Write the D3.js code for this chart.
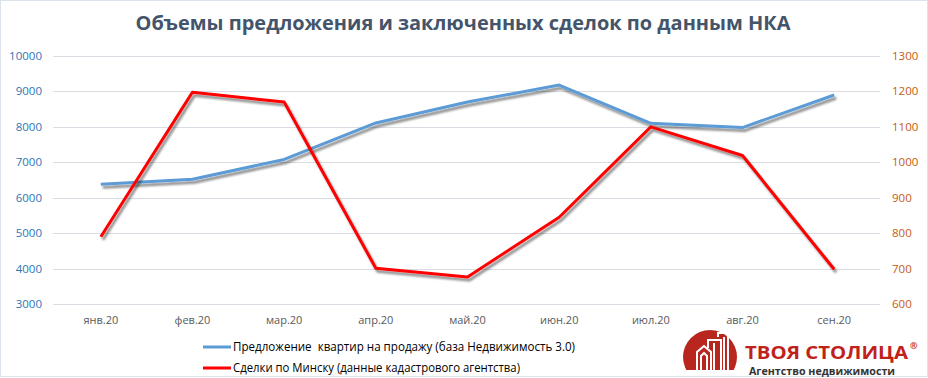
<!DOCTYPE html>
<html>
<head>
<meta charset="utf-8">
<script src="https://cdn.jsdelivr.net/npm/d3@7"></script>
<style>
  body { margin: 0; background: #fff; }
  svg { display: block; font-family: 'Open Sans', sans-serif; }
</style>
</head>
<body>
<div id="chart"></div>
<script>
const months = ['янв.20', 'фев.20', 'мар.20', 'апр.20', 'май.20', 'июн.20', 'июл.20', 'авг.20', 'сен.20'];
const offers = [6380, 6520, 7080, 8110, 8700, 9180, 8100, 7980, 8900];
const deals = [790, 1198, 1170, 701, 676, 845, 1100, 1019, 698];
const leftTicks = [3000, 4000, 5000, 6000, 7000, 8000, 9000, 10000];
const rightTicks = [600, 700, 800, 900, 1000, 1100, 1200, 1300];
const title = 'Объемы предложения и заключенных сделок по данным НКА';
const legendNames = ['Предложение  квартир на продажу (база Недвижимость 3.0)', 'Сделки по Минску (данные кадастрового агентства)'];

const BLUE = '#5b9bd5';
const RED = '#ff0000';
const width = 928, height = 378;
const margin = { top: 56, right: 48, bottom: 74, left: 55 };

const svg = d3.select('#chart').append('svg')
  .attr('width', width)
  .attr('height', height);

const defs = svg.append('defs');
const shadow = defs.append('filter').attr('id', 'shadow')
  .attr('x', '-5%').attr('y', '-5%').attr('width', '110%').attr('height', '120%');
shadow.append('feGaussianBlur').attr('in', 'SourceAlpha').attr('stdDeviation', 1.2).attr('result', 'b');
shadow.append('feOffset').attr('dx', 2).attr('dy', 3).attr('result', 'o');
shadow.append('feComponentTransfer').append('feFuncA').attr('type', 'linear').attr('slope', 0.45);
const merge = shadow.append('feMerge');
merge.append('feMergeNode');
merge.append('feMergeNode').attr('in', 'SourceGraphic');

// frame
svg.append('rect')
  .attr('x', 0.5).attr('y', 0.5)
  .attr('width', width - 1).attr('height', height - 2)
  .attr('fill', '#fff')
  .attr('stroke', '#dde3ea');

const x = d3.scaleBand()
  .domain(months)
  .range([margin.left, width - margin.right]);
const yL = d3.scaleLinear().domain([3000, 10000]).range([height - margin.bottom, margin.top]);
const yR = d3.scaleLinear().domain([600, 1300]).range([height - margin.bottom, margin.top]);

// grid
svg.append('g')
  .selectAll('line')
  .data(leftTicks)
  .join('line')
  .attr('x1', margin.left - 2).attr('x2', width - margin.right)
  .attr('y1', d => Math.round(yL(d)) + 0.5).attr('y2', d => Math.round(yL(d)) + 0.5)
  .attr('stroke', '#d9dde3');

// title
svg.append('text')
  .attr('x', 463).attr('y', 30)
  .attr('text-anchor', 'middle')
  .attr('font-size', 20).attr('font-weight', 'bold')
  .attr('fill', '#44546a')
  .attr('textLength', 655)
  .attr('lengthAdjust', 'spacingAndGlyphs')
  .text(title);

// left axis
svg.append('g')
  .selectAll('text')
  .data(leftTicks)
  .join('text')
  .attr('x', 42).attr('y', d => yL(d) + 4)
  .attr('text-anchor', 'end')
  .attr('font-size', 11.5)
  .attr('fill', '#2e75b6')
  .text(d => d);

// right axis
svg.append('g')
  .selectAll('text')
  .data(rightTicks)
  .join('text')
  .attr('x', 892).attr('y', d => yR(d) + 4)
  .attr('text-anchor', 'start')
  .attr('font-size', 11.5)
  .attr('fill', '#c55a11')
  .text(d => d);

// x labels
svg.append('g')
  .selectAll('text')
  .data(months)
  .join('text')
  .attr('x', d => x(d) + x.bandwidth() / 2)
  .attr('y', 324)
  .attr('text-anchor', 'middle')
  .attr('font-size', 11)
  .attr('fill', '#595959')
  .text(d => d);

const lineL = d3.line().x((d, i) => x(months[i]) + x.bandwidth() / 2).y(d => yL(d));
const lineR = d3.line().x((d, i) => x(months[i]) + x.bandwidth() / 2).y(d => yR(d));

svg.append('path')
  .datum(offers)
  .attr('d', lineL)
  .attr('fill', 'none')
  .attr('stroke', BLUE)
  .attr('stroke-width', 3)
  .attr('stroke-linejoin', 'round')
  .attr('filter', 'url(#shadow)');

svg.append('path')
  .datum(deals)
  .attr('d', lineR)
  .attr('fill', 'none')
  .attr('stroke', RED)
  .attr('stroke-width', 3)
  .attr('stroke-linejoin', 'round')
  .attr('filter', 'url(#shadow)');

// legend
const legend = svg.append('g')
  .selectAll('g')
  .data([
    { name: legendNames[0], color: BLUE, len: 342 },
    { name: legendNames[1], color: RED, len: 287 }
  ])
  .join('g')
  .attr('transform', (d, i) => `translate(203, ${347 + i * 21})`);
legend.append('line')
  .attr('x1', 0).attr('x2', 28)
  .attr('stroke', d => d.color)
  .attr('stroke-width', 3);
legend.append('text')
  .attr('x', 30).attr('y', 4)
  .attr('font-size', 12)
  .attr('fill', '#000')
  .style('white-space', 'pre')
  .attr('textLength', d => d.len)
  .attr('lengthAdjust', 'spacingAndGlyphs')
  .text(d => d.name);

// logo
const logo = svg.append('g');
defs.append('clipPath').attr('id', 'logoclip')
  .append('rect').attr('x', 670).attr('y', 325).attr('width', 80).attr('height', 45);
logo.append('circle')
  .attr('cx', 710).attr('cy', 357).attr('r', 27)
  .attr('fill', '#b8261e')
  .attr('clip-path', 'url(#logoclip)');
const icon = logo.append('g')
  .attr('fill', 'none').attr('stroke', '#fff').attr('stroke-width', 2);
icon.append('path').attr('d', 'M697 370 V352 L704 346 L711 352 V370');
icon.append('path').attr('d', 'M701 370 V356 L704 353 L707 356 V370');
icon.append('path').attr('d', 'M708 348 V340 H721 V370');
icon.append('path').attr('d', 'M714 343 V370');
icon.append('path').attr('d', 'M718 337 V333 H728 V370');
icon.append('path').attr('d', 'M724 337 V370');
logo.append('text')
  .attr('x', 745).attr('y', 359)
  .attr('font-size', 17).attr('font-weight', 'bold')
  .attr('fill', '#c0221b')
  .attr('textLength', 163)
  .attr('lengthAdjust', 'spacingAndGlyphs')
  .text('ТВОЯ СТОЛИЦА');
logo.append('text')
  .attr('x', 910).attr('y', 349)
  .attr('font-size', 9).attr('font-weight', 'bold')
  .attr('fill', '#c0221b')
  .text('®');
logo.append('text')
  .attr('x', 749).attr('y', 375)
  .attr('font-size', 10.5).attr('font-weight', 'bold')
  .attr('fill', '#333')
  .attr('textLength', 146)
  .attr('lengthAdjust', 'spacingAndGlyphs')
  .text('Агентство недвижимости');
</script>
</body>
</html>
